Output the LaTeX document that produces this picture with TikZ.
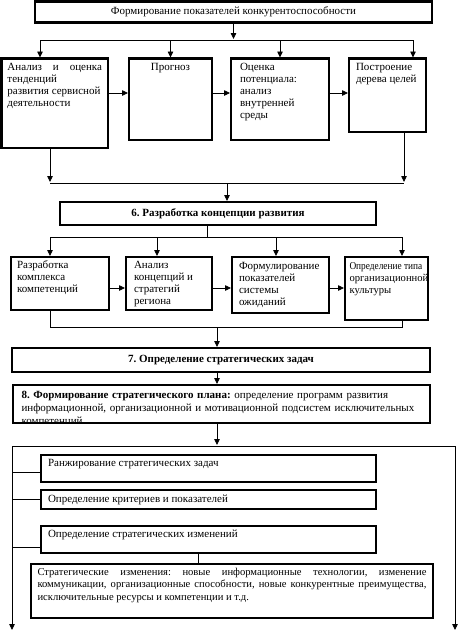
\documentclass[tikz,border=0pt]{standalone}
\usepackage{graphicx}
\usepackage{fontspec}
\setmainfont{Liberation Serif}
\usetikzlibrary{arrows.meta}
\newcommand\tb[5]{\parbox[c][#2][t]{#1}{\vspace*{#3}\hspace*{#4}\parbox[t]{\dimexpr #1-#4-#4\relax}{#5}}}
\tikzset{
  bx/.style={draw, line width=2.6pt, inner sep=0pt, outer sep=0pt, anchor=north west,
             font=\fontsize{11}{12}\selectfont},
  ln/.style={line width=0.8pt},
  ar/.style={ln, -{Triangle[length=6pt,width=5.5pt]}, shorten >=1pt},
}
\begin{document}
\frenchspacing
\begin{tikzpicture}[x=1pt,y=-1pt]
\useasboundingbox (0,0) rectangle (459,635);
% top
\node[bx, minimum width=397pt, minimum height=21pt] (T) at (35,1.5) {Формирование показателей конкурентоспособности};
% row 1
\node[bx] (B1) at (1.5,58.5) {\tb{106.5pt}{89.5pt}{4.5pt}{6pt}{Анализ\hfill и\hfill оценка\\тенденций\\развития сервисной\\деятельности}};
\node[bx] (B2) at (129,58.5) {\tb{83pt}{81.5pt}{4.5pt}{4pt}{\centering Прогноз}};
\node[bx] (B3) at (231,58.5) {\tb{98pt}{81.5pt}{4.5pt}{9pt}{\raggedright Оценка\\потенциала:\\анализ\\внутренней\\среды}};
\node[bx] (B4) at (349,58.5) {\tb{77pt}{73.5pt}{4.5pt}{7pt}{\raggedright Построение\\дерева целей}};
% bus 1
\coordinate (b1L) at (40,40);
\coordinate (b1R) at (413,40);
\draw[ar] (T.south) -- (T.south |- b1L);
\draw[ln] (b1L) -- (b1R);
\draw[ar] (b1L) -- (b1L |- B1.north);
\draw[ar] (B2.north |- b1L) -- (B2.north);
\draw[ar] (B3.north |- b1L) -- (B3.north);
\draw[ar] (b1R) -- (b1R |- B4.north);
\coordinate (r1) at (0,93);
\draw[ar] (B1.east |- r1) -- (B2.west |- r1);
\draw[ar] (B2.east |- r1) -- (B3.west |- r1);
\draw[ar] (B3.east |- r1) -- (B4.west |- r1);
% bus 2
\coordinate (b2L) at (50,183);
\coordinate (b2R) at (404,183);
\coordinate (b2M) at (227,183);
\draw[ar] (B1.south -| b2L) -- (b2L);
\draw[ar] (B4.south -| b2R) -- (b2R);
\draw[ln] (b2L) -- (b2R);
\node[bx, minimum width=316pt, minimum height=23pt, font=\fontsize{11}{12}\selectfont\bfseries] (K6) at (60,202) {6. Разработка концепции развития};
\draw[ar] (b2M) -- (b2M |- K6.north);
% bus 3
\coordinate (b3L) at (50,237);
\coordinate (b3b) at (157,237);
\coordinate (b3M) at (207,237);
\coordinate (b3c) at (276,237);
\coordinate (b3R) at (402,237);
\draw[ln] (b3M |- K6.south) -- (b3M);
\draw[ln] (b3L) -- (b3R);
% row 2
\node[bx] (A) at (11,257) {\tb{98pt}{53pt}{4pt}{6pt}{\raggedright Разработка\\комплекса\\компетенций}};
\node[bx] (B) at (126,257) {\tb{86pt}{53pt}{4pt}{8pt}{\raggedright Анализ\\концепций и\\стратегий\\региона}};
\node[bx] (C) at (232,257) {\tb{97pt}{56pt}{5pt}{7pt}{\raggedright Формулирование\\показателей\\системы\\ожиданий}};
\node[bx, font=\fontsize{10.6}{12}\selectfont] (D) at (345,257) {\tb{83pt}{63pt}{5pt}{4.5pt}{\raggedright \scalebox{0.88}[1]{Определение типа}\\организационной\\культуры}};
\draw[ar] (b3L) -- (b3L |- A.north);
\draw[ar] (b3b) -- (b3b |- B.north);
\draw[ar] (b3c) -- (b3c |- C.north);
\draw[ar] (b3R) -- (b3R |- D.north);
\coordinate (r2) at (0,288);
\draw[ar] (A.east |- r2) -- (B.west |- r2);
\draw[ar] (B.east |- r2) -- (C.west |- r2);
\draw[ar] (C.east |- r2) -- (D.west |- r2);
% bus 4
\coordinate (b4L) at (50,327);
\coordinate (b4M) at (217,327);
\coordinate (b4R) at (402,327);
\draw[ln] (A.south -| b4L) -- (b4L) -- (b4R) -- (D.south -| b4R);
\node[bx, minimum width=418pt, minimum height=24pt, font=\fontsize{11}{12}\selectfont\bfseries] (K7) at (12,348) {7. Определение стратегических задач};
\draw[ar] (b4M) -- (b4M |- K7.north);
\node[bx, minimum width=417pt, minimum height=38pt,
  path picture={\node[anchor=north west, inner sep=0pt, xshift=4pt, yshift=-5pt, text width=408pt, align=left,
     font=\fontsize{11}{13}\selectfont] at (path picture bounding box.north west)
     {\textbf{8. Формирование стратегического плана:} определение программ развития\\информационной, организационной и мотивационной подсистем исключительных\\компетенций};}] (K8) at (13,385) {};
\draw[ar] (K7.south -| b4M) -- (K8.north -| b4M);
% frame
\coordinate (fTL) at (12,446);
\coordinate (fTR) at (455,446);
\coordinate (fBL) at (12,630);
\coordinate (fBR) at (455,630);
\draw[ar] (K8.south -| b4M) -- (fTL -| b4M);
\draw[ln, {Triangle[length=6pt,width=5.5pt]}-{Triangle[length=6pt,width=5.5pt]}] (fBL) -- (fTL) -- (fTR) -- (fBR);
\node[bx] (R1) at (41,455) {\tb{335pt}{27pt}{4.5pt}{7pt}{Ранжирование стратегических задач}};
\node[bx] (R2) at (41,490) {\tb{335pt}{19pt}{5pt}{7pt}{Определение критериев и показателей}};
\node[bx] (R3) at (41,526) {\tb{335pt}{27pt}{4pt}{7pt}{Определение стратегических изменений}};
\node[bx, font=\fontsize{10.6}{12.5}\selectfont] (R4) at (31,564) {\tb{402pt}{54pt}{4pt}{6.5pt}{Стратегические изменения: новые информационные технологии, изменение\linebreak коммуникации, организационные способности, новые конкурентные преимущества,\linebreak исключительные ресурсы и компетенции и т.д.}};
\coordinate (c1) at (41,472);
\coordinate (c2) at (41,499);
\coordinate (c3) at (41,547);
\draw[ln] (c1 -| fTL) -- (c1);
\draw[ln] (c2 -| fTL) -- (c2);
\draw[ln] (c3 -| fTL) -- (c3);
\coordinate (c4) at (198,0);
\draw[ln] (R3.south -| c4) -- (R4.north -| c4);
\end{tikzpicture}
\end{document}
